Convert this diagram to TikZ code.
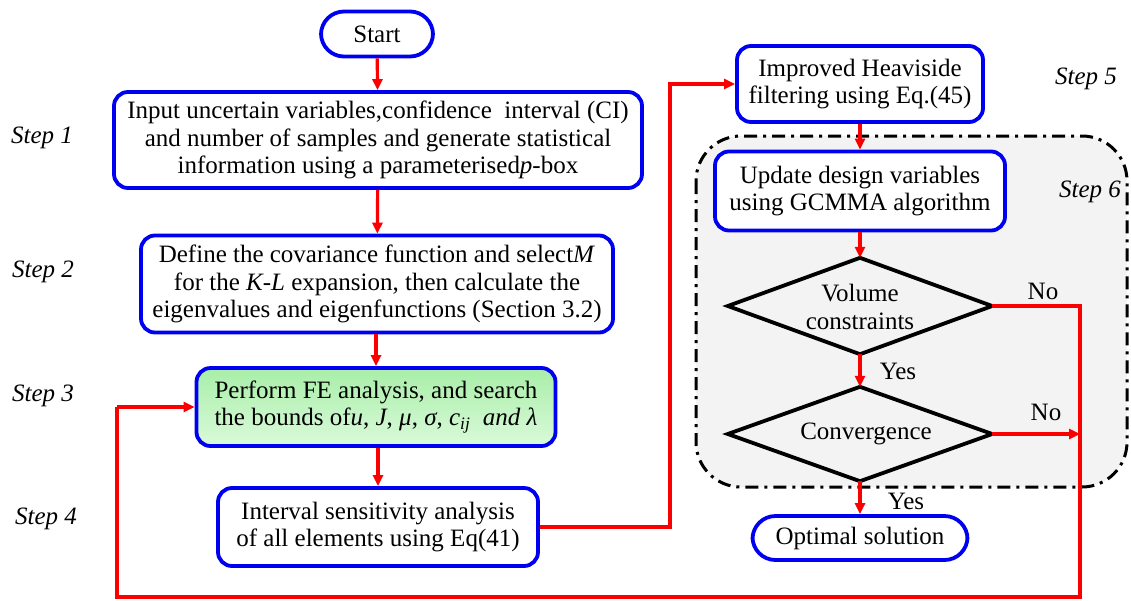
\documentclass[tikz,border=0pt]{standalone}
\usepackage{fontspec}
\setmainfont{Liberation Serif}
\usetikzlibrary{arrows.meta}
\definecolor{boxblue}{RGB}{0,0,240}
\definecolor{flowred}{RGB}{250,0,0}
\definecolor{regiongray}{RGB}{243,243,243}
\definecolor{greentop}{RGB}{168,238,168}
\definecolor{greenbot}{RGB}{218,250,218}
\begin{document}
\begin{tikzpicture}[x=1pt,y=-1pt,
  font=\fontsize{25}{27.8}\selectfont,
  box/.style={draw=boxblue, line width=3.8pt, rounded corners=14pt,
    align=center, inner sep=0pt, fill=white},
  pill/.style={box, rounded corners=23pt},
  decision/.style={inner sep=0pt, align=center},
  flow/.style={draw=flowred, line width=3.2pt,
    -{Triangle[length=11pt,width=10pt]}},
  plain/.style={draw=flowred, line width=3.2pt},
  steplabel/.style={font=\fontsize{25}{28}\selectfont\itshape, inner sep=0pt},
  branch/.style={inner sep=0pt}
]
\useasboundingbox (0,0) rectangle (1131,600);

% optimisation loop region
\draw[line width=3pt, dash pattern=on 13pt off 6pt on 3pt off 6pt,
  fill=regiongray, rounded corners=45pt] (696,136) rectangle (1127,487);

% left column
\node[pill, minimum width=112pt, minimum height=45pt] (start) at (377,34) {Start};
\node[box, minimum width=528pt, minimum height=96pt] (input) at (378,140)
  {Input uncertain variables,confidence\ \ interval (CI)\\
   and number of samples and generate statistical\\
   information using a parameterised\textit{p}-box};
\node[box, minimum width=472pt, minimum height=97pt] (kl) at (377,284)
  {Define the covariance function and select\textit{M}\\
   for the \textit{K-L} expansion, then calculate the\\
   eigenvalues and eigenfunctions (Section 3.2)};
\node[box, top color=greentop, bottom color=greenbot,
  minimum width=359pt, minimum height=78pt] (fe) at (376,407)
  {Perform FE analysis, and search\\
   the bounds of\textit{u}, \textit{J}, \textit{μ}, \textit{σ}, \textit{c}\textsubscript{\textit{ij}}\ \ \textit{and λ}};
\node[box, minimum width=320pt, minimum height=78pt] (sens) at (378,527)
  {Interval sensitivity analysis\\ of all elements using Eq(41)};

% right column
\node[box, minimum width=246pt, minimum height=76pt] (heavi) at (860,84)
  {Improved Heaviside\\ filtering using Eq.(45)};
\node[box, minimum width=290pt, minimum height=79pt] (gcmma) at (860,191)
  {Update design variables\\ using GCMMA algorithm};
\node[decision, minimum width=264pt, minimum height=96pt] (vol) at (860,306) {};
\draw[line width=3.8pt, line join=miter]
  (vol.north) -- (vol.east) -- (vol.south) -- (vol.west) -- cycle;
\node[decision] (voltext) at (860,307) {Volume\\ constraints};
\node[decision, minimum width=264pt, minimum height=94pt] (conv) at (860,434) {};
\draw[line width=3.8pt, line join=miter]
  (conv.north) -- (conv.east) -- (conv.south) -- (conv.west) -- cycle;
\node[decision] (convtext) at (866,434) {Convergence};
\node[pill, minimum width=215pt, minimum height=44pt] (opt) at (860,538)
  {Optimal solution};

% step labels
\node[steplabel] (s1) at (42,138) {Step 1};
\node[steplabel] (s2) at (43,272) {Step 2};
\node[steplabel] (s3) at (43,396) {Step 3};
\node[steplabel] (s4) at (46,519) {Step 4};
\node[steplabel] (s5) at (1086,79) {Step 5};
\node[steplabel] (s6) at (1090,192) {Step 6};

% branch labels
\node[branch] (no1) at (1043,291) {No};
\node[branch] (no2) at (1046,412) {No};
\node[branch] (yes1) at (898,371) {Yes};
\node[branch] (yes2) at (906,501) {Yes};

% turning points of the connectors
\coordinate (riseX) at (670,0);
\coordinate (returnX) at (1080,0);
\coordinate (bottomY) at (0,597);
\coordinate (leftX) at (117,0);

% connectors
\draw[flow] (start) -- (input);
\draw[flow] (input) -- (kl);
\draw[flow] (kl.south -| fe.north) -- (fe);
\draw[flow] (fe.south -| sens.north) -- (sens);
\draw[flow] (sens.east) -- (sens.east -| riseX) -- (riseX |- heavi.west) -- (heavi.west);
\draw[flow] (heavi) -- (gcmma);
\draw[flow] (gcmma) -- (vol.north);
\draw[flow] (vol.south) -- (conv.north);
\draw[flow] (conv.south) -- (opt);
\draw[flow] (conv.east) -- (conv.east -| returnX);
\draw[plain, line join=miter] (vol.east) -- (vol.east -| returnX)
  -- (returnX |- bottomY) -- (leftX |- bottomY) -- (leftX |- fe.west);
\draw[flow] (leftX |- fe.west) -- (fe.west);
\end{tikzpicture}
\end{document}
